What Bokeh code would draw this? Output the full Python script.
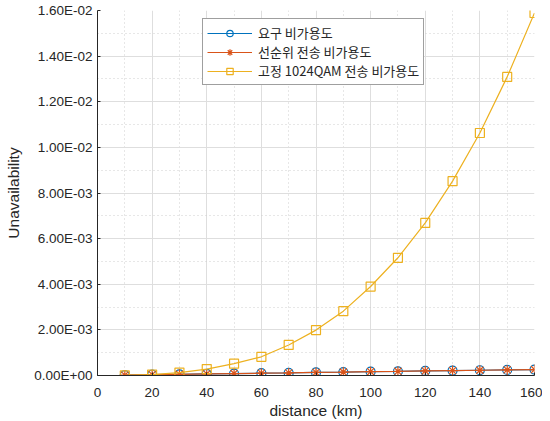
from bokeh.plotting import figure
from bokeh.models import (Range1d, FixedTicker, CustomJSTickFormatter, Legend, LegendItem,
                          ColumnDataSource)
from bokeh.embed import file_html
from bokeh.resources import INLINE

distance = [10, 20, 30, 40, 50, 60, 70, 80, 90, 100, 110, 120, 130, 140, 150, 160]
req_unavail = [0.000018, 0.000035, 0.000052, 0.000068, 0.000085, 0.000100, 0.000115, 0.000135,
               0.000150, 0.000168, 0.000183, 0.000200, 0.000215, 0.000230, 0.000245, 0.000260]
prio_unavail = [0.000018, 0.000035, 0.000052, 0.000068, 0.000085, 0.000100, 0.000115, 0.000135,
                0.000150, 0.000168, 0.000183, 0.000200, 0.000215, 0.000230, 0.000245, 0.000260]
fixed_unavail = [0.000005, 0.00004, 0.00013, 0.00028, 0.00052, 0.00082, 0.00134, 0.00199,
                 0.00282, 0.00390, 0.00516, 0.00669, 0.00852, 0.01063, 0.01309, 0.01589]

names = ["요구 비가용도", "선순위 전송 비가용도", "고정 1024QAM 전송 비가용도"]
x_ticks = [0, 20, 40, 60, 80, 100, 120, 140, 160]
y_ticks = [0, 0.002, 0.004, 0.006, 0.008, 0.010, 0.012, 0.014, 0.016]

c_blue, c_red, c_yel = "#0072BD", "#D95319", "#EDB120"
grey_text = "#262626"
font = "Liberation Sans"

p = figure(width=542, height=421, output_backend="svg", toolbar_location=None,
           x_range=Range1d(0, 160), y_range=Range1d(0, 0.016),
           min_border_left=97, min_border_right=8, min_border_top=10, min_border_bottom=46)
p.outline_line_color = None
p.background_fill_color = "white"
p.border_fill_color = "white"

src = ColumnDataSource(dict(x=distance, a=req_unavail, b=prio_unavail, c=fixed_unavail))

l1 = p.line("x", "a", source=src, line_color=c_blue, line_width=1.2)
m1 = p.scatter("x", "a", source=src, marker="circle", size=9, fill_color=None,
               line_color=c_blue, line_width=1.2)
l2 = p.line("x", "b", source=src, line_color=c_red, line_width=1.2)
m2 = p.scatter("x", "b", source=src, marker="asterisk", size=10, line_color=c_red, line_width=1.2)
l3 = p.line("x", "c", source=src, line_color=c_yel, line_width=1.2)
m3 = p.scatter("x", "c", source=src, marker="square", size=9, fill_color=None,
               line_color=c_yel, line_width=1.2)

# grids
p.xgrid.ticker = FixedTicker(ticks=x_ticks, minor_ticks=[10, 30, 50, 70, 90, 110, 130, 150])
p.ygrid.ticker = FixedTicker(ticks=y_ticks, minor_ticks=[0.001, 0.003, 0.005, 0.007, 0.009, 0.011, 0.013, 0.015])
for g in (p.xgrid, p.ygrid):
    g.grid_line_color = "#dedede"
    g.grid_line_width = 1
    g.minor_grid_line_color = "#cfcfcf"
    g.minor_grid_line_dash = "1 3"
    g.minor_grid_line_width = 1

# axes
p.xaxis.ticker = FixedTicker(ticks=x_ticks)
p.yaxis.ticker = FixedTicker(ticks=y_ticks)
p.yaxis.formatter = CustomJSTickFormatter(code="""
let s = tick.toExponential(2);
let parts = s.split('e');
let e = parts[1];
let sign = e[0];
let d = e.slice(1);
if (d.length < 2) { d = '0' + d; }
return parts[0] + 'E' + sign + d;
""")
for ax in (p.xaxis[0], p.yaxis[0]):
    ax.axis_line_color = "#262626"
    ax.axis_line_width = 1
    ax.major_tick_in = 3
    ax.major_tick_out = 0
    ax.major_tick_line_color = "#262626"
    ax.minor_tick_line_color = None
    ax.major_label_text_font = font
    ax.major_label_text_font_size = "13.5px"
    ax.major_label_text_color = grey_text
    ax.axis_label_text_font = font
    ax.axis_label_text_font_size = "15.5px"
    ax.axis_label_text_font_style = "normal"
    ax.axis_label_text_color = grey_text
p.xaxis.axis_label = "distance (km)"
p.yaxis.axis_label = "Unavailability"
p.xaxis.major_label_standoff = 12
p.xaxis.axis_label_standoff = 2
p.yaxis.major_label_standoff = 5
p.yaxis.axis_label_standoff = 9

legend = Legend(items=[LegendItem(label=names[0], renderers=[l1, m1]),
                       LegendItem(label=names[1], renderers=[l2, m2]),
                       LegendItem(label=names[2], renderers=[l3, m3])],
                location=(105, 290))
legend.label_text_font = "Noto Sans CJK KR"
legend.label_text_font_size = "13px"
legend.label_text_color = grey_text
legend.label_height = 16
legend.glyph_height = 16
legend.glyph_width = 45
legend.label_standoff = 6
legend.spacing = 0
legend.padding = 4
legend.margin = 0
legend.border_line_color = "#404040"
legend.border_line_width = 1
legend.background_fill_alpha = 1
p.add_layout(legend, "center")

open("out.html", "w").write(file_html(p, INLINE))
